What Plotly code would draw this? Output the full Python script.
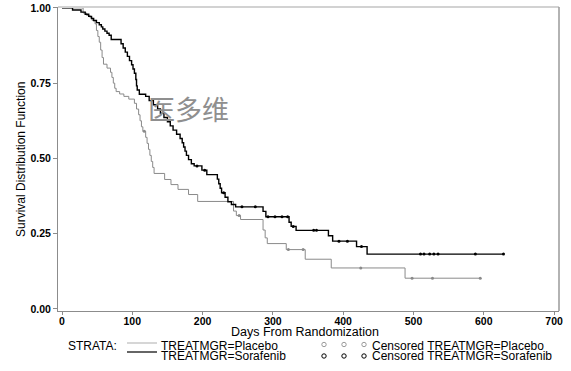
import plotly.graph_objects as go

# ---- data (days, survival after each drop) ----
sora_days = [0, 15, 27, 33, 38, 42, 45, 49, 53, 56, 58, 61, 64, 67, 70, 84, 87, 90, 93, 96,
             99, 101, 103, 105, 106, 107, 110, 119, 124, 130, 136, 140, 145, 150, 154, 158,
             163, 168, 171, 173, 175, 177, 180, 184, 188, 199, 206, 221, 223, 225, 227, 232,
             236, 241, 247, 286, 290, 323, 326, 333, 379, 385, 419, 434, 628]
sora_surv = [1.000, 0.993, 0.986, 0.979, 0.972, 0.965, 0.958, 0.951, 0.944, 0.937, 0.930,
             0.923, 0.916, 0.909, 0.895, 0.881, 0.867, 0.853, 0.839, 0.825, 0.811, 0.797,
             0.783, 0.762, 0.741, 0.727, 0.713, 0.706, 0.692, 0.678, 0.664, 0.650, 0.636,
             0.622, 0.608, 0.594, 0.580, 0.566, 0.552, 0.538, 0.524, 0.510, 0.496, 0.482,
             0.475, 0.461, 0.446, 0.431, 0.416, 0.401, 0.386, 0.371, 0.356, 0.347, 0.339,
             0.324, 0.306, 0.288, 0.274, 0.261, 0.243, 0.225, 0.207, 0.182, 0.182]
sora_cens = [192, 203, 230, 256, 275, 293, 303, 313, 321, 329, 358, 362, 394, 406, 426,
             510, 515, 523, 529, 535, 588, 628]

plac_days = [0, 30, 35, 40, 43, 47, 49, 51, 53, 55, 57, 59, 64, 69, 71, 73, 75, 77, 82, 88,
             95, 103, 106, 109, 111, 113, 115, 119, 121, 123, 125, 127, 129, 131, 146, 155,
             165, 180, 193, 244, 248, 254, 286, 289, 292, 319, 346, 383, 488, 595]
plac_surv = [1.000, 0.983, 0.975, 0.967, 0.958, 0.947, 0.925, 0.905, 0.886, 0.860, 0.835,
             0.813, 0.800, 0.786, 0.769, 0.750, 0.733, 0.722, 0.714, 0.706, 0.697, 0.683,
             0.664, 0.645, 0.625, 0.605, 0.590, 0.570, 0.550, 0.530, 0.510, 0.490, 0.470,
             0.450, 0.430, 0.413, 0.397, 0.380, 0.357, 0.325, 0.310, 0.297, 0.262, 0.236,
             0.217, 0.197, 0.165, 0.136, 0.102, 0.102]
plac_cens = [117, 252, 322, 343, 425, 498, 527, 595]

x_ticks = [0, 100, 200, 300, 400, 500, 600, 700]
y_ticks = [0.00, 0.25, 0.50, 0.75, 1.00]
y_tick_text = ["0.00", "0.25", "0.50", "0.75", "1.00"]

PLAC_COLOR = "#8a8a8a"
SORA_COLOR = "#000000"


def surv_at(days, surv, t):
    s = surv[0]
    for d, v in zip(days, surv):
        if d <= t:
            s = v
    return s


W, H = 571, 371
L, R, T, B = 58, 559, 7, 311


def px(x):
    return (x - L) / (R - L)


def py(y):
    return (B - y) / (B - T)


fig = go.Figure()
fig.add_trace(go.Scatter(x=plac_days, y=plac_surv, mode="lines", line_shape="hv",
                         line=dict(color=PLAC_COLOR, width=1), showlegend=False))
fig.add_trace(go.Scatter(x=sora_days, y=sora_surv, mode="lines", line_shape="hv",
                         line=dict(color=SORA_COLOR, width=1.4), showlegend=False))
fig.add_trace(go.Scatter(x=plac_cens, y=[surv_at(plac_days, plac_surv, t) for t in plac_cens],
                         mode="markers", marker=dict(symbol="circle", size=3, color=PLAC_COLOR),
                         showlegend=False))
fig.add_trace(go.Scatter(x=sora_cens, y=[surv_at(sora_days, sora_surv, t) for t in sora_cens],
                         mode="markers", marker=dict(symbol="circle", size=3, color=SORA_COLOR),
                         showlegend=False))

tick_font = dict(family="Liberation Sans, Arial", size=10.5, color="#000", weight="bold")
axis_common = dict(showgrid=False, zeroline=False, showline=True, linecolor="#8c8c8c",
                   linewidth=1, ticks="outside", tickcolor="#8c8c8c", tickfont=tick_font,
                   automargin=False)

fig.update_layout(
    width=W, height=H,
    margin=dict(l=L, r=W - R, t=T, b=H - B, pad=0),
    paper_bgcolor="white", plot_bgcolor="white",
    xaxis=dict(range=[-5.7, 707], tickvals=x_ticks, ticklen=3, ticklabelstandoff=-3,
               **axis_common),
    yaxis=dict(range=[-0.007, 1.003], tickvals=y_ticks, ticktext=y_tick_text, ticklen=4,
               **axis_common),
    showlegend=False,
)

shapes = [
    dict(type="line", xref="paper", yref="paper", x0=0, x1=1, y0=1, y1=1,
         line=dict(color="#d2d2d2", width=2)),
    dict(type="line", xref="paper", yref="paper", x0=1, x1=1, y0=0, y1=1,
         line=dict(color="#9a9a9a", width=1.5)),
    # legend line samples
    dict(type="line", xref="paper", yref="paper", x0=px(127), x1=px(157), y0=py(343), y1=py(343),
         line=dict(color="#c8c8c8", width=1.5)),
    dict(type="line", xref="paper", yref="paper", x0=px(127), x1=px(157), y0=py(352), y1=py(352),
         line=dict(color="#000", width=1.2)),
]
for cx in (324, 344, 364):
    for cy, col in ((344.5, "#9a9a9a"), (356, "#000")):
        shapes.append(dict(type="circle", xref="paper", yref="paper",
                           x0=px(cx - 2.2), x1=px(cx + 2.2), y0=py(cy - 2.2), y1=py(cy + 2.2),
                           line=dict(color=col, width=1)))
fig.update_layout(shapes=shapes)

txt = dict(family="Liberation Sans, Arial", size=12, color="#000")
ann = [
    dict(text="Days From Randomization", x=px(305), y=py(332), font=dict(txt, size=12.5)),
    dict(text="Survival Distribution Function", x=px(21), y=py(160), textangle=-90, font=txt),
    dict(text="STRATA:", x=px(67), y=py(345.5), xanchor="left", font=txt),
    dict(text="TREATMGR=Placebo", x=px(160), y=py(345.5), xanchor="left", font=txt),
    dict(text="TREATMGR=Sorafenib", x=px(160), y=py(356), xanchor="left", font=txt),
    dict(text="Censored TREATMGR=Placebo", x=px(371), y=py(345.5), xanchor="left", font=txt),
    dict(text="Censored TREATMGR=Sorafenib", x=px(371), y=py(356), xanchor="left", font=txt),
    dict(text="医多维", x=px(188), y=py(108),
         font=dict(family="Noto Sans CJK SC", size=27, color="#8f8f8f")),
]
for a in ann:
    a.setdefault("xanchor", "center")
    a.update(xref="paper", yref="paper", yanchor="middle", showarrow=False, borderpad=0)
fig.update_layout(annotations=ann)

fig.write_html("out.html", config={"displayModeBar": False},
               post_script="document.body.style.margin='0';"
                           "document.body.style.overflow='hidden';")
